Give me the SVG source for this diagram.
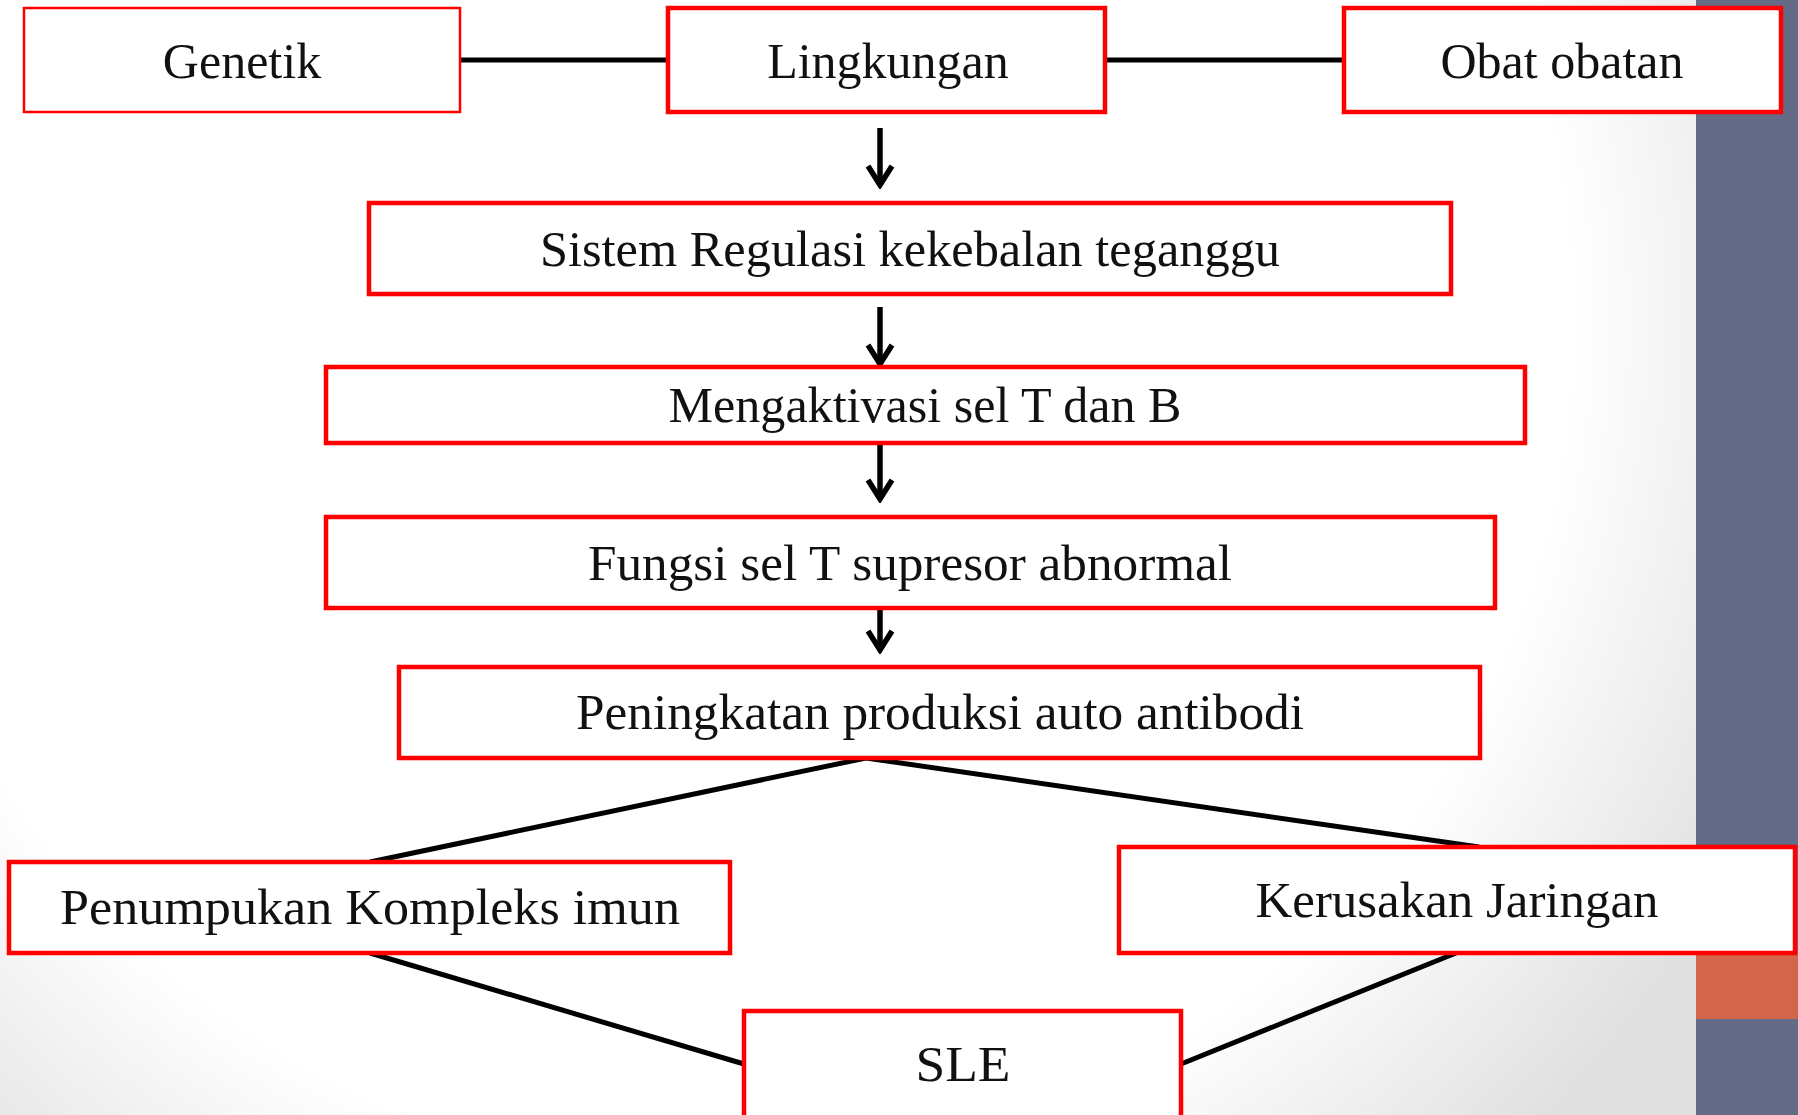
<svg xmlns="http://www.w3.org/2000/svg" width="1798" height="1115" viewBox="0 0 1798 1115">
  <defs>
    <radialGradient id="bg" gradientUnits="userSpaceOnUse" cx="720" cy="320" r="1150">
      <stop offset="0.74" stop-color="#ffffff"/>
      <stop offset="1" stop-color="#e0e0e0"/>
    </radialGradient>
    <marker id="arr" viewBox="0 0 26 30" refX="22" refY="15" markerWidth="26" markerHeight="30" markerUnits="userSpaceOnUse" orient="auto">
      <path d="M3,3 L22,15 L3,27" fill="none" stroke="#000" stroke-width="5.5" stroke-linejoin="miter"/>
    </marker>
    <style>
      .box { fill: #ffffff; stroke: #ff0000; stroke-width: 4.5; }
      .thin { stroke-width: 2.5; }
      .lbl { font-family: "Liberation Serif", "DejaVu Serif", serif; font-size: 50px; fill: #111; text-anchor: middle; }
      .con { stroke: #000; stroke-width: 5; fill: none; }
      .arrow { stroke: #000; stroke-width: 5.5; fill: none; }
    </style>
  </defs>

  <rect x="0" y="0" width="1798" height="1115" fill="url(#bg)"/>
  <rect x="1696" y="0" width="102" height="1115" fill="#646b86"/>
  <rect x="1696" y="953" width="102" height="66" fill="#d2654a"/>

  <g id="connectors">
    <line class="con" x1="460" y1="60" x2="668" y2="60"/>
    <line class="con" x1="1105" y1="60" x2="1344" y2="60"/>
    <line class="arrow" x1="880" y1="128" x2="880" y2="185" marker-end="url(#arr)"/>
    <line class="arrow" x1="880" y1="307" x2="880" y2="364" marker-end="url(#arr)"/>
    <line class="arrow" x1="880" y1="445" x2="880" y2="499" marker-end="url(#arr)"/>
    <line class="arrow" x1="880" y1="609" x2="880" y2="650" marker-end="url(#arr)"/>
    <polyline class="con" points="370,862 866,758 1479,847"/>
    <line class="con" x1="370" y1="953" x2="744" y2="1064"/>
    <line class="con" x1="1456" y1="953" x2="1181" y2="1064"/>
  </g>

  <g id="genetik">
    <rect class="box thin" x="24" y="8" width="436" height="104"/>
    <text class="lbl" x="242" y="78">Genetik</text>
  </g>
  <g id="lingkungan">
    <rect class="box" x="668" y="8" width="437" height="104"/>
    <text class="lbl" x="888" y="78">Lingkungan</text>
  </g>
  <g id="obat">
    <rect class="box" x="1344" y="8" width="437" height="104"/>
    <text class="lbl" x="1562" y="78">Obat obatan</text>
  </g>
  <g id="sistem">
    <rect class="box" x="369" y="203" width="1082" height="91"/>
    <text class="lbl" x="910" y="266" textLength="740" lengthAdjust="spacingAndGlyphs">Sistem Regulasi kekebalan teganggu</text>
  </g>
  <g id="mengaktivasi">
    <rect class="box" x="326" y="367" width="1199" height="76"/>
    <text class="lbl" x="925" y="422" textLength="513" lengthAdjust="spacingAndGlyphs">Mengaktivasi sel T dan B</text>
  </g>
  <g id="fungsi">
    <rect class="box" x="326" y="517" width="1169" height="91"/>
    <text class="lbl" x="910" y="580" textLength="644" lengthAdjust="spacingAndGlyphs">Fungsi sel T supresor abnormal</text>
  </g>
  <g id="peningkatan">
    <rect class="box" x="399" y="667" width="1081" height="91"/>
    <text class="lbl" x="940" y="729" textLength="728" lengthAdjust="spacingAndGlyphs">Peningkatan produksi auto antibodi</text>
  </g>
  <g id="penumpukan">
    <rect class="box" x="9" y="862" width="721" height="91"/>
    <text class="lbl" x="370" y="924" textLength="620" lengthAdjust="spacingAndGlyphs">Penumpukan Kompleks imun</text>
  </g>
  <g id="kerusakan">
    <rect class="box" x="1119" y="847" width="676" height="106"/>
    <text class="lbl" x="1457" y="917" textLength="403" lengthAdjust="spacingAndGlyphs">Kerusakan Jaringan</text>
  </g>
  <g id="sle">
    <rect class="box" x="744" y="1011" width="437" height="110"/>
    <text class="lbl" x="963" y="1081" textLength="95" lengthAdjust="spacingAndGlyphs">SLE</text>
  </g>
</svg>
